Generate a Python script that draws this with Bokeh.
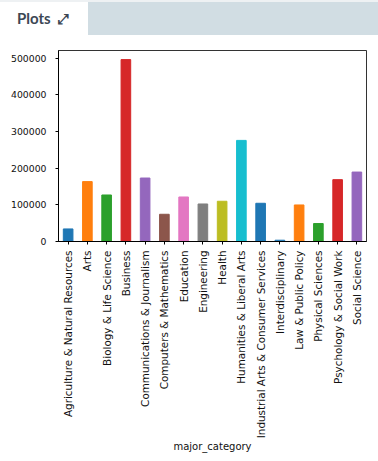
import math
from bokeh.plotting import figure
from bokeh.models import Div, FixedTicker, BasicTickFormatter, ColumnDataSource, Range1d, FactorRange
from bokeh.layouts import column
from bokeh.embed import file_html
from bokeh.resources import INLINE

categories = ["Agriculture & Natural Resources", "Arts", "Biology & Life Science", "Business",
              "Communications & Journalism", "Computers & Mathematics", "Education", "Engineering",
              "Health", "Humanities & Liberal Arts", "Industrial Arts & Consumer Services",
              "Interdisciplinary", "Law & Public Policy", "Physical Sciences",
              "Psychology & Social Work", "Social Science"]
values = [34300, 163400, 126900, 496400, 173200, 74300, 121500, 102400,
          109800, 275900, 104300, 3500, 99700, 49000, 168800, 189500]
colors = ["#1f77b4", "#ff7f0e", "#2ca02c", "#d62728", "#9467bd", "#8c564b", "#e377c2", "#7f7f7f",
          "#bcbd22", "#17becf", "#1f77b4", "#1f77b4", "#ff7f0e", "#2ca02c", "#d62728", "#9467bd"]
y_ticks = [0, 100000, 200000, 300000, 400000, 500000]

header = Div(
    text=(
        '<div style="display:flex;width:378px;height:35px;border-top:2px solid #eef1f3;box-sizing:border-box;">'
        '<div style="width:88px;height:33px;background:#ffffff;font-family:Lato;font-weight:bold;'
        'font-size:15px;color:#3c4754;line-height:33px;padding-left:17px;box-sizing:border-box;white-space:nowrap;">'
        'Plots&nbsp;&nbsp;<span style="font-family:\'DejaVu Sans\';font-size:14px;">&#x2922;</span></div>'
        '<div style="flex:1;height:33px;background:#d1dde3;"></div></div>'
    ),
    width=378, height=35, margin=(0, 0, 0, 0),
)

src = ColumnDataSource(dict(cat=categories, val=values, color=colors))

p = figure(x_range=FactorRange(*categories, range_padding=0), y_range=Range1d(0, max(values) * 1.05),
           width=378, height=426, output_backend="svg", toolbar_location=None,
           min_border_left=58, min_border_right=12, min_border_top=15, min_border_bottom=220)
p.vbar(x="cat", top="val", width=0.5, color="color", source=src)

p.grid.visible = False
p.background_fill_color = "white"
p.border_fill_color = "white"
p.outline_line_color = "black"
p.outline_line_width = 1
p.outline_line_alpha = 0.8

for ax in (p.xaxis[0], p.yaxis[0]):
    ax.axis_line_color = "black"
    ax.major_tick_line_color = "black"
    ax.major_tick_out = 3
    ax.major_tick_in = 0
    ax.minor_tick_line_color = None
    ax.major_label_text_font = "DejaVu Sans"
    ax.major_label_text_color = "#111111"

p.yaxis.ticker = FixedTicker(ticks=y_ticks)
p.yaxis.formatter = BasicTickFormatter(use_scientific=False)
p.yaxis.major_label_text_font_size = "9.3px"
p.yaxis.major_label_standoff = 9

p.xaxis.major_label_orientation = math.pi / 2
p.xaxis.major_label_text_font_size = "10.4px"
p.xaxis.major_label_standoff = 6
p.xaxis.axis_label = "major_category"
p.xaxis.axis_label_text_font = "DejaVu Sans"
p.xaxis.axis_label_text_font_size = "10px"
p.xaxis.axis_label_text_font_style = "normal"
p.xaxis.axis_label_text_color = "#111111"
p.xaxis.axis_label_standoff = 0

layout = column(header, p, spacing=0)
open("out.html", "w").write(file_html(layout, INLINE))
